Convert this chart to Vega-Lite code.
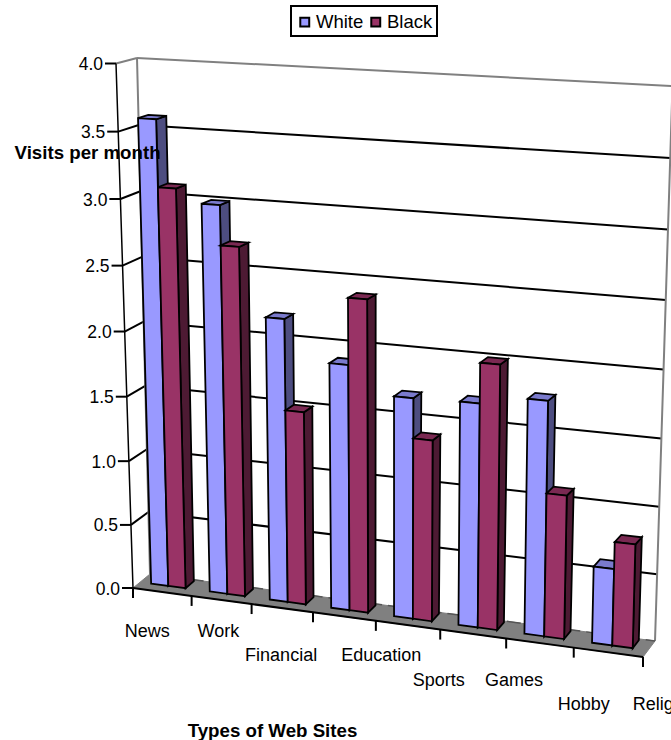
{
  "$schema": "https://vega.github.io/schema/vega-lite/v6.json",
  "width": 671,
  "height": 740,
  "padding": 0,
  "autosize": {"type": "none"},
  "background": "white",
  "config": {
    "font": "Liberation Sans",
    "view": {"stroke": null},
    "text": {"font": "Liberation Sans", "color": "#000000"}
  },
  "datasets": {
    "visits": [
      {"site": "News", "race": "White", "value": 3.585},
      {"site": "News", "race": "Black", "value": 3.08},
      {"site": "Work", "race": "White", "value": 2.98},
      {"site": "Work", "race": "Black", "value": 2.68},
      {"site": "Financial", "race": "White", "value": 2.17},
      {"site": "Financial", "race": "Black", "value": 1.48},
      {"site": "Education", "race": "White", "value": 1.87},
      {"site": "Education", "race": "Black", "value": 2.37},
      {"site": "Sports", "race": "White", "value": 1.67},
      {"site": "Sports", "race": "Black", "value": 1.37},
      {"site": "Games", "race": "White", "value": 1.68},
      {"site": "Games", "race": "Black", "value": 1.98},
      {"site": "Hobby", "race": "White", "value": 1.75},
      {"site": "Hobby", "race": "Black", "value": 1.07},
      {"site": "Religion", "race": "White", "value": 0.57},
      {"site": "Religion", "race": "Black", "value": 0.77}
    ],
    "gridTicks": [
      {"tick": 0}, {"tick": 0.5}, {"tick": 1}, {"tick": 1.5}, {"tick": 2},
      {"tick": 2.5}, {"tick": 3}, {"tick": 3.5}, {"tick": 4}
    ],
    "slots": [
      {"slot": 0, "site": "News"}, {"slot": 1, "site": "Work"}, {"slot": 2, "site": "Financial"},
      {"slot": 3, "site": "Education"}, {"slot": 4, "site": "Sports"}, {"slot": 5, "site": "Games"},
      {"slot": 6, "site": "Hobby"}, {"slot": 7, "site": "Religion"}, {"slot": 8, "site": ""}
    ],
    "floorCorners": [{"corner": 0}, {"corner": 1}, {"corner": 2}, {"corner": 3}]
  },
  "encoding": {
    "x": {
      "field": "px",
      "type": "quantitative",
      "scale": {"domain": [0, 671], "range": [0, 671], "nice": false, "zero": false},
      "axis": {
        "title": "Types of Web Sites",
        "titleFont": "Liberation Sans",
        "titleFontWeight": "bold",
        "titleFontSize": 18.7,
        "titleColor": "#000000",
        "titleX": 272,
        "titleY": 0,
        "titleAnchor": null,
        "titleAlign": "center",
        "titleBaseline": "bottom",
        "domain": false,
        "ticks": false,
        "labels": false,
        "grid": false
      }
    },
    "y": {
      "field": "py",
      "type": "quantitative",
      "scale": {"domain": [0, 740], "range": [0, 740], "nice": false, "zero": false},
      "axis": {
        "title": "Visits per month",
        "titleFont": "Liberation Sans",
        "titleFontWeight": "bold",
        "titleFontSize": 18.7,
        "titleColor": "#000000",
        "titleAngle": 0,
        "titleX": 14,
        "titleY": 158,
        "titleAlign": "left",
        "titleBaseline": "alphabetic",
        "domain": false,
        "ticks": false,
        "labels": false,
        "grid": false,
        "zindex": 1
      }
    }
  },
  "layer": [
    {
      "description": "Back wall and left wall grid lines, grey along the top of the walls",
      "data": {"name": "gridTicks"},
      "transform": [
        {"filter": "datum.tick > 0"},
        {"calculate": "(datum.tick/4)/((datum.tick/4)+1.045*(1-datum.tick/4))", "as": "tv"},
        {"calculate": "(1-datum.tv)*150+datum.tv*137", "as": "px"},
        {"calculate": "(1-datum.tv)*574+datum.tv*58", "as": "py"},
        {"calculate": "(1-datum.tv)*655+datum.tv*672.5", "as": "px2"},
        {"calculate": "(1-datum.tv)*641+datum.tv*86", "as": "py2"}
      ],
      "mark": {"type": "rule", "strokeWidth": 2},
      "encoding": {
        "x2": {"field": "px2"},
        "y2": {"field": "py2"},
        "stroke": {"condition": {"test": "datum.tick == 4", "value": "#808080"}, "value": "#000000"}
      }
    },
    {
      "data": {"name": "gridTicks"},
      "transform": [
        {"filter": "datum.tick > 0"},
        {"calculate": "(datum.tick/4)/((datum.tick/4)+1.045*(1-datum.tick/4))", "as": "tv"},
        {"calculate": "(1-datum.tv)*133+datum.tv*116", "as": "px"},
        {"calculate": "(1-datum.tv)*588+datum.tv*63.5", "as": "py"},
        {"calculate": "(1-datum.tv)*150+datum.tv*137", "as": "px2"},
        {"calculate": "(1-datum.tv)*574+datum.tv*58", "as": "py2"}
      ],
      "mark": {"type": "rule", "strokeWidth": 2},
      "encoding": {
        "x2": {"field": "px2"},
        "y2": {"field": "py2"},
        "stroke": {"condition": {"test": "datum.tick == 4", "value": "#808080"}, "value": "#000000"}
      }
    },
    {
      "description": "Grey uprights at the far corners of the walls",
      "data": {"name": "gridTicks"},
      "transform": [
        {"calculate": "(datum.tick/4)/((datum.tick/4)+1.045*(1-datum.tick/4))", "as": "tv"},
        {"calculate": "(1-datum.tv)*150+datum.tv*137", "as": "px"},
        {"calculate": "(1-datum.tv)*574+datum.tv*58", "as": "py"}
      ],
      "mark": {"type": "line", "stroke": "#808080", "strokeWidth": 2},
      "encoding": {"order": {"field": "tick"}}
    },
    {
      "data": {"name": "gridTicks"},
      "transform": [
        {"calculate": "(datum.tick/4)/((datum.tick/4)+1.045*(1-datum.tick/4))", "as": "tv"},
        {"calculate": "(1-datum.tv)*655+datum.tv*672.5", "as": "px"},
        {"calculate": "(1-datum.tv)*641+datum.tv*86", "as": "py"}
      ],
      "mark": {"type": "line", "stroke": "#808080", "strokeWidth": 2},
      "encoding": {"order": {"field": "tick"}}
    },
    {
      "description": "Floor of the plot box",
      "data": {"name": "floorCorners"},
      "transform": [
        {"calculate": "datum.corner == 1 || datum.corner == 2 ? 1 : 0", "as": "tu"},
        {"calculate": "datum.corner >= 2 ? 1 : 0", "as": "w"},
        {"calculate": "(133+510*datum.tu)*(1-datum.w)+(150+505*datum.tu)*datum.w", "as": "px"},
        {"calculate": "(588+69*datum.tu)*(1-datum.w)+(574+67*datum.tu)*datum.w", "as": "py"}
      ],
      "mark": {"type": "line", "interpolate": "linear-closed", "fill": "#808080", "stroke": "#808080", "strokeWidth": 1},
      "encoding": {"order": {"field": "corner"}}
    },
    {
      "description": "Dashed zero line where the floor meets the back wall",
      "data": {"name": "gridTicks"},
      "transform": [
        {"filter": "datum.tick == 0"},
        {"calculate": "150", "as": "px"},
        {"calculate": "574", "as": "py"},
        {"calculate": "655", "as": "px2"},
        {"calculate": "641", "as": "py2"}
      ],
      "mark": {"type": "rule", "stroke": "#555555", "strokeWidth": 1.5, "strokeDash": [14, 6]},
      "encoding": {"x2": {"field": "px2"}, "y2": {"field": "py2"}}
    },
    {
      "description": "Three faces of every bar, projected from category, series and value; side first, front last",
      "data": {"name": "visits"},
      "transform": [
        {"calculate": "indexof(['News','Work','Financial','Education','Sports','Games','Hobby','Religion'], datum.site)", "as": "slot"},
        {"calculate": "datum.race == 'White' ? 0 : 1", "as": "s"},
        {"calculate": "['side','top','front']", "as": "face"},
        {"flatten": ["face"]},
        {"calculate": "[0,1,2,3]", "as": "corner"},
        {"flatten": ["corner"]},
        {"calculate": "(datum.slot+0.19+0.295*datum.s)/8", "as": "uL"},
        {"calculate": "(datum.slot+0.19+0.295*(datum.s+1))/8", "as": "uR"},
        {"calculate": "datum.face == 'side' ? datum.uR : (datum.corner == 1 || datum.corner == 2 ? datum.uR : datum.uL)", "as": "nu"},
        {"calculate": "datum.face == 'top' || datum.corner >= 2 ? datum.value/4 : 0", "as": "nv"},
        {"calculate": "datum.face == 'front' ? 0.42 : datum.face == 'side' ? (datum.corner == 1 || datum.corner == 2 ? 0.92 : 0.42) : (datum.corner >= 2 ? 0.92 : 0.42)", "as": "w"},
        {"calculate": "datum.nu/(datum.nu+1.1*(1-datum.nu))", "as": "tu"},
        {"calculate": "datum.nv/(datum.nv+1.045*(1-datum.nv))", "as": "tv"},
        {"calculate": "((1-datum.tv)*(133+510*datum.tu)+datum.tv*(116+540.5*datum.tu))*(1-datum.w)+((1-datum.tv)*(150+505*datum.tu)+datum.tv*(137+535.5*datum.tu))*datum.w", "as": "px"},
        {"calculate": "((1-datum.tv)*(588+69*datum.tu)+datum.tv*(63.5+30*datum.tu))*(1-datum.w)+((1-datum.tv)*(574+67*datum.tu)+datum.tv*(58+28*datum.tu))*datum.w", "as": "py"},
        {"calculate": "datum.face == 'front' ? datum.race : datum.race + ' ' + datum.face", "as": "paint"},
        {"calculate": "datum.site + datum.race + datum.face", "as": "polygon"}
      ],
      "mark": {"type": "line", "interpolate": "linear-closed", "stroke": "#000000", "strokeWidth": 1.8, "strokeJoin": "miter"},
      "encoding": {
        "detail": {"field": "polygon"},
        "order": {"field": "corner"},
        "fill": {
          "field": "paint",
          "type": "nominal",
          "scale": {
            "domain": ["White", "Black", "White top", "Black top", "White side", "Black side"],
            "range": ["#9999ff", "#993366", "#7a7acc", "#7a2952", "#4d4d80", "#4d1a33"]
          },
          "legend": {
            "values": ["White", "Black"],
            "title": null,
            "orient": "none",
            "legendX": 291,
            "legendY": 6,
            "direction": "horizontal",
            "columns": 2,
            "fillColor": "#ffffff",
            "strokeColor": "#000000",
            "padding": 4.5,
            "columnPadding": 3,
            "symbolType": "square",
            "symbolSize": 80,
            "symbolStrokeColor": "#000000",
            "symbolStrokeWidth": 2,
            "labelFont": "Liberation Sans",
            "labelFontSize": 18.5,
            "labelColor": "#000000",
            "labelOffset": 2,
            "encode": {
              "legend": {"update": {"strokeWidth": {"value": 2}}},
              "labels": {"update": {"dy": {"value": 2}}},
              "symbols": {"update": {"yc": {"value": 11.5}}}
            }
          }
        }
      }
    },
    {
      "description": "Front value axis",
      "data": {"name": "gridTicks"},
      "transform": [
        {"calculate": "(datum.tick/4)/((datum.tick/4)+1.045*(1-datum.tick/4))", "as": "tv"},
        {"calculate": "(1-datum.tv)*133+datum.tv*116", "as": "px"},
        {"calculate": "(1-datum.tv)*588+datum.tv*63.5", "as": "py"}
      ],
      "mark": {"type": "line", "stroke": "#000000", "strokeWidth": 1.5},
      "encoding": {"order": {"field": "tick"}}
    },
    {
      "description": "Value axis ticks",
      "data": {"name": "gridTicks"},
      "transform": [
        {"calculate": "(datum.tick/4)/((datum.tick/4)+1.045*(1-datum.tick/4))", "as": "tv"},
        {"calculate": "(1-datum.tv)*133+datum.tv*116", "as": "px2"},
        {"calculate": "(1-datum.tv)*588+datum.tv*63.5", "as": "py"},
        {"calculate": "datum.px2-11", "as": "px"}
      ],
      "mark": {"type": "rule", "stroke": "#000000", "strokeWidth": 2},
      "encoding": {"x2": {"field": "px2"}}
    },
    {
      "description": "Value axis labels",
      "data": {"name": "gridTicks"},
      "transform": [
        {"calculate": "(datum.tick/4)/((datum.tick/4)+1.045*(1-datum.tick/4))", "as": "tv"},
        {"calculate": "(1-datum.tv)*133+datum.tv*116-13", "as": "px"},
        {"calculate": "(1-datum.tv)*588+datum.tv*63.5+1.5", "as": "py"},
        {"calculate": "format(datum.tick, '.1f')", "as": "label"}
      ],
      "mark": {"type": "text", "align": "right", "baseline": "middle", "fontSize": 17.5},
      "encoding": {"text": {"field": "label"}}
    },
    {
      "description": "Front edge of the floor",
      "data": {"name": "slots"},
      "transform": [
        {"calculate": "(datum.slot/8)/((datum.slot/8)+1.1*(1-datum.slot/8))", "as": "tu"},
        {"calculate": "133+510*datum.tu", "as": "px"},
        {"calculate": "588+69*datum.tu", "as": "py"}
      ],
      "mark": {"type": "line", "stroke": "#000000", "strokeWidth": 2},
      "encoding": {"order": {"field": "slot"}}
    },
    {
      "description": "Category ticks below the floor",
      "data": {"name": "slots"},
      "transform": [
        {"calculate": "(datum.slot/8)/((datum.slot/8)+1.1*(1-datum.slot/8))", "as": "tu"},
        {"calculate": "133+510*datum.tu", "as": "px"},
        {"calculate": "588+69*datum.tu", "as": "py"},
        {"calculate": "datum.py+10", "as": "py2"}
      ],
      "mark": {"type": "rule", "stroke": "#000000", "strokeWidth": 2},
      "encoding": {"y2": {"field": "py2"}}
    },
    {
      "description": "Staggered category labels",
      "data": {"name": "slots"},
      "transform": [
        {"filter": "datum.slot < 8"},
        {"calculate": "((datum.slot+0.5)/8)/(((datum.slot+0.5)/8)+1.1*(1-(datum.slot+0.5)/8))", "as": "tu"},
        {"calculate": "133+510*datum.tu+[-15,-3,-1,37,31,41,44,57][datum.slot]", "as": "px"},
        {"calculate": "632+24.4*floor(datum.slot/2)", "as": "py"}
      ],
      "mark": {"type": "text", "align": "center", "baseline": "middle", "fontSize": 18},
      "encoding": {"text": {"field": "site"}}
    }
  ]
}
